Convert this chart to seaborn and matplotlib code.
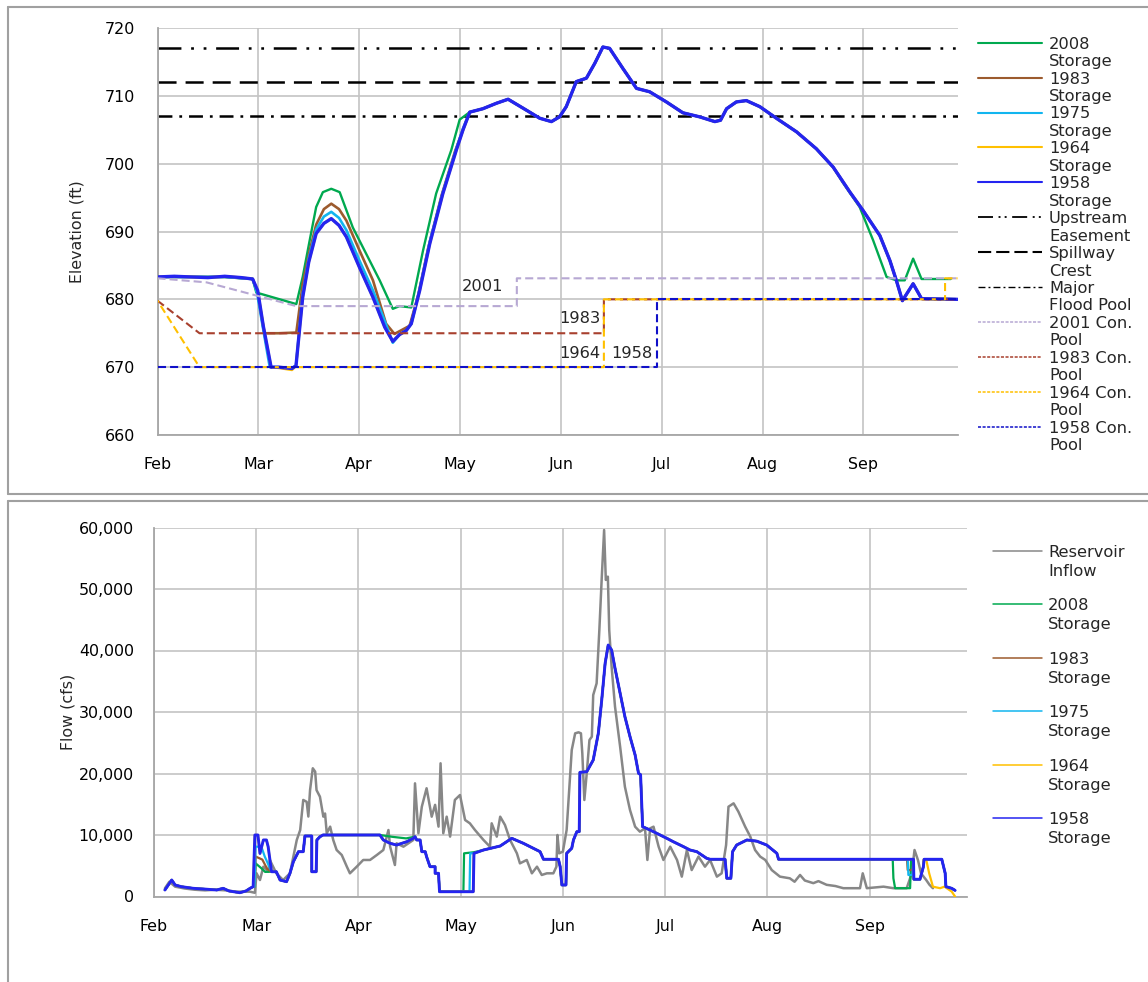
import numpy as np
import matplotlib
matplotlib.use("Agg")
import matplotlib.pyplot as plt
import seaborn as sns
from matplotlib.lines import Line2D

# ======================= DATA =======================
months = ["Feb", "Mar", "Apr", "May", "Jun", "Jul", "Aug", "Sep"]
month_days = [0, 30, 60, 90, 120, 150, 180, 210]          # day offsets of month ticks
elev_ticks = [660, 670, 680, 690, 700, 710, 720]
flow_ticks = [0, 10000, 20000, 30000, 40000, 50000, 60000]

# reference elevations (ft)
ref_labels = ["Upstream\nEasement", "Spillway\nCrest", "Major\nFlood Pool"]
ref_elev = [717, 712, 707]

# --- storage elevations (ft) ---
# part shared by all storage alternatives (late May .. mid Aug)
common_day = [92.9, 96.8, 100.8, 104.3, 109.7, 113.7, 117.2, 119.6, 121.6, 124.6,
              127.6, 130.1, 132.5, 134.5, 138.5, 142.5, 146.4, 151.4, 156.3, 161.3,
              165.8, 167.5, 169.3, 172.2, 175.2, 179.2, 184.1, 190.1, 196.0, 201.0]
common_elev = [707.6, 708.1, 708.9, 709.5, 707.9, 706.7, 706.2, 706.9, 708.4, 712.1,
               712.6, 714.8, 717.2, 717.0, 714.0, 711.1, 710.6, 709.1, 707.5, 706.9,
               706.2, 706.4, 708.1, 709.1, 709.3, 708.4, 706.7, 704.7, 702.2, 699.5]

s1958_early_day = [0, 5, 10, 15, 20, 25, 28.3, 29.8, 31.5, 33.8, 36, 40, 41.2, 43.2, 45,
                   47.2, 49.5, 51.7, 54, 56.2, 60.1, 64.1, 67.6, 70, 72, 74, 75.5, 78, 81,
                   84.9, 88.9, 90.9]
s1958_early_elev = [683.3, 683.4, 683.3, 683.2, 683.4, 683.2, 683.0, 681.3, 676.0, 670.0,
                    670.0, 669.8, 670.2, 680.3, 685.5, 689.7, 691.2, 691.9, 690.9, 689.2,
                    684.7, 680.3, 675.9, 673.8, 674.8, 675.4, 676.4, 681.3, 688.2, 695.6,
                    702.0, 705.0]
s1958_late_day = [206.0, 209.9, 214.9, 217.9, 219.8, 221.6, 224.8, 227.3, 238]
s1958_late_elev = [695.8, 693.1, 689.4, 685.7, 682.8, 679.8, 682.3, 680.1, 680.0]

s1964_early_day = [0, 5, 10, 15, 20, 25, 28.3, 29.8, 31.5, 33.8, 36, 40, 41.2, 43.2, 45,
                   47.2, 49.5, 51.7, 54, 56.2, 60.1, 64.1, 67.6, 70, 72, 74, 75.5, 78, 81,
                   84.9, 88.9, 90.9]
s1964_early_elev = [683.3, 683.4, 683.3, 683.2, 683.4, 683.2, 683.0, 681.3, 676.0, 670.0,
                    669.9, 669.6, 670.2, 680.3, 685.5, 689.7, 691.2, 691.9, 690.9, 689.2,
                    684.7, 680.3, 675.9, 673.8, 674.8, 675.4, 676.4, 681.3, 688.2, 695.6,
                    702.0, 705.0]

s1975_early_day = [0, 10, 20, 28.3, 29.6, 31.3, 33.4, 36, 40, 41.2, 43.2, 45, 47.2, 49.5,
                   51.7, 54, 56.2, 60.1, 64.1, 67.6, 70, 72, 74, 75.5, 78, 81, 84.9, 88.9,
                   90.9]
s1975_early_elev = [683.3, 683.3, 683.3, 683.0, 681.0, 676.0, 670.0, 670.0, 669.9, 670.2,
                    680.8, 686.0, 690.3, 692.2, 692.9, 692.0, 690.2, 685.7, 681.3, 676.8,
                    673.6, 674.8, 675.4, 676.4, 681.5, 688.5, 695.8, 702.2, 705.2]

s1983_early_day = [0, 10, 20, 28.3, 29.8, 31.8, 36, 41.3, 43.2, 45.2, 47.2, 49.5, 51.7, 54,
                   56.2, 60.1, 64.1, 68, 70.5, 72, 75, 77.5, 80.5, 84.5, 88.5, 90.9]
s1983_early_elev = [683.3, 683.3, 683.3, 683.0, 681.0, 675.0, 675.0, 675.1, 682.3, 687.0,
                    691.0, 693.3, 694.1, 693.3, 691.6, 687.2, 682.8, 676.4, 674.9, 675.3,
                    676.1, 680.5, 687.5, 695.3, 701.8, 705.0]

s2008_early_day = [0, 10, 20, 28.3, 29.4, 35, 41.3, 43.2, 45.2, 47.2, 49.2, 51.7, 54.2,
                   58.1, 62.1, 66.1, 70, 72, 75.5, 79, 82.9, 87.4, 89.9]
s2008_early_elev = [683.3, 683.3, 683.3, 683.0, 681.0, 680.2, 679.3, 683.3, 688.5, 693.6,
                    695.8, 696.3, 695.8, 690.6, 686.7, 682.8, 678.6, 679.0, 678.8, 687.2,
                    695.6, 702.0, 706.5]
s2008_late_day = [203.9, 208.9, 212.9, 216.9, 219.8, 222.3, 224.8, 227.3, 236]
s2008_late_elev = [697.2, 693.6, 688.7, 683.3, 682.8, 682.8, 686.0, 683.0, 683.0]

# --- conservation pools (ft) ---
pool2001_day = [0, 14.6, 41.3, 106.9, 106.9, 238]
pool2001_elev = [683.1, 682.5, 679.0, 679.0, 683.1, 683.1]
pool1983_day = [0, 12.5, 132.8, 132.8, 238]
pool1983_elev = [679.8, 675.0, 675.0, 680.0, 680.0]
pool1964_day = [0, 12.5, 132.8, 132.8, 234.3, 234.3, 238]
pool1964_elev = [679.8, 670.0, 670.0, 680.0, 680.0, 683.1, 683.1]
pool1958_day = [0, 148.7, 148.7, 238]
pool1958_elev = [670.0, 670.0, 680.0, 680.0]
pool_text = ["2001", "1983", "1964", "1958"]

# --- flows (cfs) ---
inflow_pts = [(3.2, 1330), (4.5, 2400), (6.2, 1600), (9, 1300), (12, 1100), (15, 1000),
              (18, 1100), (21, 1000), (24, 800), (28.2, 780), (29.6, 600), (30.1, 3770),
              (31.1, 2680), (32.1, 4850), (33.5, 4030), (34, 5940), (35.9, 3770),
              (37.9, 2680), (39.9, 3770), (41.9, 9190), (42.9, 10800), (43.8, 15700),
              (44.8, 15400), (45.3, 13000), (45.8, 17300), (46.6, 20850), (47.3, 20300),
              (47.7, 17300), (48.7, 16230), (49.7, 12980), (50.2, 13500), (50.7, 10280),
              (51.7, 11360), (52.6, 9190), (53.6, 7560), (55.1, 6750), (56.6, 4850),
              (57.5, 3770), (59.5, 4850), (61.4, 5940), (63.4, 5940), (65.4, 6750),
              (67.3, 7560), (68.8, 10810), (69.3, 8100), (70.7, 5120), (71.2, 8650),
              (73.2, 8100), (76.1, 9190), (76.6, 18400), (77.6, 10280), (78.6, 14600),
              (80, 17600), (81.5, 12980), (82.5, 14900), (83.5, 11360), (84.1, 21660),
              (84.9, 10280), (85.9, 12980), (86.9, 9740), (88.3, 15700), (89.8, 16500),
              (91.3, 12440), (92.7, 11900), (94.2, 10810), (96.7, 9190), (98.6, 8100),
              (99.1, 11900), (100.6, 9740), (101.6, 12980), (103, 11630), (104.5, 9190),
              (106.5, 7020), (107.4, 5390), (109.4, 5940), (110.9, 3770), (112.4, 4850),
              (113.8, 3500), (115.3, 3770), (117.2, 3770), (118.1, 4850), (118.4, 10000),
              (118.9, 7020), (120, 7300), (121.1, 10810), (121.9, 17850), (122.6, 23820),
              (123.6, 26530), (124.6, 26700), (125.3, 26530), (125.7, 23280),
              (126.3, 15690), (127, 20030), (127.8, 25450), (128.5, 25990), (128.9, 32760),
              (129.9, 34660), (130.7, 43330), (131.4, 51740), (132.1, 59590),
              (132.6, 51470), (133.2, 52010), (133.6, 43330), (134.3, 37370),
              (135.3, 30870), (136.8, 24360), (138.2, 17850), (139.7, 14060),
              (141.2, 11350), (142.6, 10540), (144.1, 11080), (144.8, 5940), (145.6, 11080),
              (146.6, 11350), (148.1, 8100), (149.5, 5940), (151.5, 8100), (153.5, 5940),
              (154.9, 3230), (156.4, 7560), (157.8, 4300), (159.8, 6490), (161.7, 4850),
              (163.2, 5940), (165.2, 3230), (166.6, 3770), (167.9, 8370), (168.6, 14600),
              (170.1, 15150), (171.5, 13800), (173.5, 11350), (175, 9740), (176.4, 7560),
              (177.9, 6490), (179.4, 5940), (181.3, 4300), (183.7, 3230), (186.6, 2960),
              (188, 2400), (189.6, 3500), (191, 2600), (193.5, 2170), (195, 2500),
              (197.4, 1900), (200, 1700), (202.3, 1350), (207.2, 1350), (208, 3770),
              (209.2, 1350), (214.1, 1600), (217, 1350), (220.9, 1350), (222.4, 3770),
              (223.2, 7560), (224.2, 5940), (225.1, 3770), (226.6, 2700), (227.6, 1900),
              (228.6, 1350)]

out1958_pts = [(3.2, 1060), (5.2, 2680), (6.2, 1870), (8.0, 1600), (11.5, 1330), (15.0, 1200),
               (18.4, 1060), (20.3, 1330), (22.0, 900), (25.2, 620), (27.0, 900), (28.2, 1330),
               (29.1, 1600), (29.6, 10000), (30.5, 10000), (31.1, 7000), (32.1, 9190),
               (33.0, 9190), (33.5, 8100), (34.5, 4030), (35.9, 4030), (37.0, 2680),
               (38.9, 2410), (39.9, 3770), (40.9, 5660), (42.4, 7290), (43.8, 7290),
               (44.3, 9840), (46.3, 9840), (46.3, 4030), (47.6, 4030), (47.8, 9190),
               (48.7, 9720), (49.6, 10000), (66.3, 10000), (67.3, 9190), (69.3, 8650),
               (71.2, 8370), (74.2, 8910), (76.1, 9460), (76.6, 9730), (77.1, 9190),
               (78.1, 9190), (78.6, 7290), (79.6, 7290), (80.0, 6470), (81.0, 4850),
               (82.5, 4850), (82.5, 3770), (83.5, 3770), (83.8, 780), (93.7, 780),
               (93.9, 7020), (96.7, 7560), (101.6, 8210), (105.0, 9460), (108.4, 8650),
               (113.3, 7290), (114.3, 6050), (118.7, 6050), (119.2, 4850), (119.7, 1870),
               (120.9, 1870), (121.1, 7020), (122.6, 7840), (123.1, 9190), (124.1, 10540),
               (124.8, 10540), (125.0, 20190), (127.0, 20290), (128.9, 22190),
               (130.4, 26530), (131.4, 31950), (132.4, 37920), (133.3, 40890),
               (134.3, 40080), (135.3, 37100), (136.8, 33040), (138.2, 29240),
               (139.7, 25990), (141.2, 23010), (142.2, 20030), (142.8, 19800),
               (143.4, 11350), (145.6, 10810), (150.5, 9460), (152.4, 8910), (155.4, 8100),
               (157.3, 7560), (159.3, 7290), (162.2, 6210), (163.2, 6050), (167.6, 6050),
               (168.1, 2960), (169.3, 2960), (169.8, 7290), (171.0, 8370), (174.0, 9190),
               (176.9, 9000), (179.8, 8370), (182.8, 7020), (183.3, 6050), (222.9, 6050),
               (223.0, 2800), (224.8, 2800), (225.8, 4850), (226.0, 6050), (231.2, 6050),
               (232.2, 3770), (232.4, 1600), (234.1, 1330), (235.1, 1000)]

# portions where the other alternatives depart from the 1958 outflow
out2008_diff = [[(29.5, 1600), (29.8, 5400), (31.5, 4600), (32.6, 4000), (34.5, 4030)],
                [(66.3, 10000), (70.0, 9700), (74.0, 9450), (76.6, 9730)],
                [(83.8, 780), (90.8, 780), (91.0, 7020), (93.9, 7200)],
                [(216.8, 6050), (217.0, 2960), (217.5, 1350), (221.9, 1350),
                 (222.2, 6050), (222.9, 6050)]]
out1983_diff = [[(29.5, 1600), (29.8, 6500), (31.8, 6000), (33.2, 4500), (34.5, 4030)],
                [(221.0, 6050), (221.2, 4300), (222.6, 4300), (222.9, 6050)]]
out1975_diff = [[(29.5, 1600), (29.8, 8100), (31.5, 8100), (32.5, 6500), (34.5, 4030)],
                [(83.8, 780), (92.6, 780), (92.8, 7020), (93.9, 7020)],
                [(221.2, 6050), (221.4, 3500), (222.6, 3500), (222.9, 6050)]]
out1964_diff = [[(225.9, 6050), (226.6, 6050), (227.5, 3770), (228.6, 1600), (230.7, 1350),
                 (232.0, 1600), (234.1, 800), (235.1, 0)]]

# ======================= STYLE =======================
C2008, C1983, C1975, C1964, C1958 = "#00a94f", "#9c5b2e", "#12b5ef", "#ffc000", "#2424f0"
C_INFLOW = "#878787"
C_P2001, C_P1983, C_P1964, C_P1958 = "#b7a8d3", "#a8402e", "#ffc000", "#1010c8"
FS = 11.7      # legend / annotation text
FT = 11.4      # tick labels and axis titles

sns.set_style("white")
plt.rcParams["font.family"] = ["DejaVu Sans"]
plt.rcParams["lines.scale_dashes"] = False

W, H = 1148, 982
fig = plt.figure(figsize=(W / 100, H / 100), dpi=100)


def fx(px):
    return px / W


def fy(py):
    return 1 - py / H


ax1 = fig.add_axes([fx(157.5), fy(435), (957.5 - 157.5) / W, (435 - 28) / H])
ax2 = fig.add_axes([fx(154), fy(896.5), (967 - 154) / W, (896.5 - 527.5) / H])


def sline(ax, x, y, **kw):
    sns.lineplot(x=np.asarray(x, float), y=np.asarray(y, float), ax=ax, sort=False,
                 estimator=None, legend=False, **kw)


def splice(base, segs):
    pts = list(base)
    for seg in segs:
        a, b = seg[0][0], seg[-1][0]
        before = [p for p in pts if p[0] < a]
        after = [p for p in pts if p[0] > b]
        pts = before + list(seg) + after
    return pts


# ---------------- top: elevation ----------------
UP_LS = (0, (16.5, 7, 2, 7, 2, 7))
SP_LS = (0, (13, 6.5))
MJ_LS = (0, (10, 5, 2, 5))
for val, ls in zip(ref_elev, [UP_LS, SP_LS, MJ_LS]):
    ax1.axhline(val, color="black", lw=1.8, ls=ls, zorder=2)

top_series = [
    (s2008_early_day + common_day + s2008_late_day,
     s2008_early_elev + common_elev + s2008_late_elev, C2008, 1.7),
    (s1983_early_day + common_day + s1958_late_day,
     s1983_early_elev + common_elev + s1958_late_elev, C1983, 1.9),
    (s1975_early_day + common_day + s1958_late_day,
     s1975_early_elev + common_elev + s1958_late_elev, C1975, 1.9),
    (s1964_early_day + common_day + s1958_late_day,
     s1964_early_elev + common_elev + s1958_late_elev, C1964, 1.9),
    (s1958_early_day + common_day + s1958_late_day,
     s1958_early_elev + common_elev + s1958_late_elev, C1958, 2.4),
]
for xd, yd, col, lw in top_series:
    sline(ax1, xd, yd, color=col, linewidth=lw, zorder=3)

POOL_LS = (0, (5.8, 2.9))
sline(ax1, pool2001_day, pool2001_elev, color=C_P2001, linewidth=1.5, linestyle=POOL_LS, zorder=4)
sline(ax1, pool1983_day, pool1983_elev, color=C_P1983, linewidth=1.5, linestyle=POOL_LS, zorder=4)
sline(ax1, pool1964_day, pool1964_elev, color=C_P1964, linewidth=1.5,
      linestyle=(4.3, (5.8, 2.9)), zorder=4)
sline(ax1, pool1958_day, pool1958_elev, color=C_P1958, linewidth=1.5, linestyle=POOL_LS, zorder=4)

ax1.text(102.8, 681.9, pool_text[0], ha="right", va="center", fontsize=FS)
ax1.text(131.7, 677.2, pool_text[1], ha="right", va="center", fontsize=FS)
ax1.text(131.7, 672.0, pool_text[2], ha="right", va="center", fontsize=FS)
ax1.text(147.4, 672.0, pool_text[3], ha="right", va="center", fontsize=FS)

# ---------------- bottom: flow ----------------
inflow_d, inflow_q = zip(*inflow_pts)
sline(ax2, inflow_d, inflow_q, color=C_INFLOW, linewidth=1.8, zorder=2)
for diff, col, lw in [(out2008_diff, C2008, 1.6), (out1983_diff, C1983, 1.6),
                      (out1975_diff, C1975, 1.6), (out1964_diff, C1964, 1.6)]:
    d, q = zip(*splice(out1958_pts, diff))
    sline(ax2, d, q, color=col, linewidth=lw, zorder=3)
d, q = zip(*out1958_pts)
sline(ax2, d, q, color=C1958, linewidth=2.1, zorder=4)


def style(ax, xlim, ylim, yticks, yticklabels, ylabel, ypad, xpad, labelx):
    ax.set_xlim(*xlim)
    ax.set_ylim(*ylim)
    ax.set_xticks(month_days)
    ax.set_xticklabels(months)
    ax.set_yticks(yticks)
    ax.set_yticklabels(yticklabels)
    ax.grid(True, color="#c4c4c4", lw=1.2)
    ax.set_axisbelow(True)
    for s in ["top", "right"]:
        ax.spines[s].set_visible(False)
    for s in ["left", "bottom"]:
        ax.spines[s].set_color("#a6a6a6")
        ax.spines[s].set_linewidth(1.3)
    ax.tick_params(length=0, labelsize=FT, labelcolor="black")
    ax.tick_params(axis="y", pad=ypad)
    ax.tick_params(axis="x", pad=xpad)
    ax.set_xlabel("")
    ax.set_ylabel(ylabel, fontsize=FT, va="center")
    ax.yaxis.set_label_coords(labelx, 0.5)


style(ax1, (0, 238), (660, 720), elev_ticks, [str(v) for v in elev_ticks],
      "Elevation (ft)", 16, 16, (77 - 157.5) / 800)
style(ax2, (0, 238.6), (0, 60000), flow_ticks, [f"{v:,}" for v in flow_ticks],
      "Flow (cfs)", 14.5, 16, (68 - 154) / 813)

# ---------------- panel frames ----------------
FRAME = dict(color="#a0a0a0", lw=1.5, transform=fig.transFigure)
fig.add_artist(Line2D([fx(8), 1], [fy(7), fy(7)], **FRAME))
fig.add_artist(Line2D([fx(8), fx(8)], [fy(7), fy(494)], **FRAME))
fig.add_artist(Line2D([fx(8), 1], [fy(494), fy(494)], **FRAME))
fig.add_artist(Line2D([fx(8), 1], [fy(501), fy(501)], **FRAME))
fig.add_artist(Line2D([fx(8), fx(8)], [fy(501), 0], **FRAME))

# ---------------- legends ----------------
top_legend = [
    ("2008\nStorage", C2008, "-", 1.5),
    ("1983\nStorage", C1983, "-", 1.5),
    ("1975\nStorage", C1975, "-", 1.5),
    ("1964\nStorage", C1964, "-", 1.5),
    ("1958\nStorage", C1958, "-", 1.5),
    (ref_labels[0], "black", (0, (10.8, 4, 1.4, 3, 1.4, 4)), 1.3),
    (ref_labels[1], "black", (0, (9.5, 3.6)), 1.5),
    (ref_labels[2], "black", (0, (5, 2.2, 1.4, 2.2)), 1.0),
    ("2001 Con.\nPool", C_P2001, (0, (2.2, 1.1)), 1.1),
    ("1983 Con.\nPool", C_P1983, (0, (2.2, 1.1)), 1.1),
    ("1964 Con.\nPool", C_P1964, (0, (2.2, 1.1)), 1.1),
    ("1958 Con.\nPool", C_P1958, (0, (2.2, 1.1)), 1.1),
]
for i, (lab, col, ls, lw) in enumerate(top_legend):
    y = 42.7 + 34.9 * i
    fig.add_artist(Line2D([fx(978), fx(1042)], [fy(y), fy(y)], color=col, ls=ls, lw=lw,
                          transform=fig.transFigure))
    for j, line in enumerate(lab.split("\n")):
        fig.text(fx(1049), fy(y + 1.5 + 17.5 * j), line, ha="left", va="center", fontsize=FS)

bottom_legend = [
    ("Reservoir\nInflow", C_INFLOW),
    ("2008\nStorage", C2008),
    ("1983\nStorage", C1983),
    ("1975\nStorage", C1975),
    ("1964\nStorage", C1964),
    ("1958\nStorage", C1958),
]
for i, (lab, col) in enumerate(bottom_legend):
    y = 550.7 + 53.5 * i
    fig.add_artist(Line2D([fx(993), fx(1042)], [fy(y), fy(y)], color=col, lw=1.1,
                          transform=fig.transFigure))
    for j, line in enumerate(lab.split("\n")):
        fig.text(fx(1048), fy(y + 1.5 + 19 * j), line, ha="left", va="center", fontsize=FS)

fig.savefig("out.png", dpi=100, facecolor="white")
